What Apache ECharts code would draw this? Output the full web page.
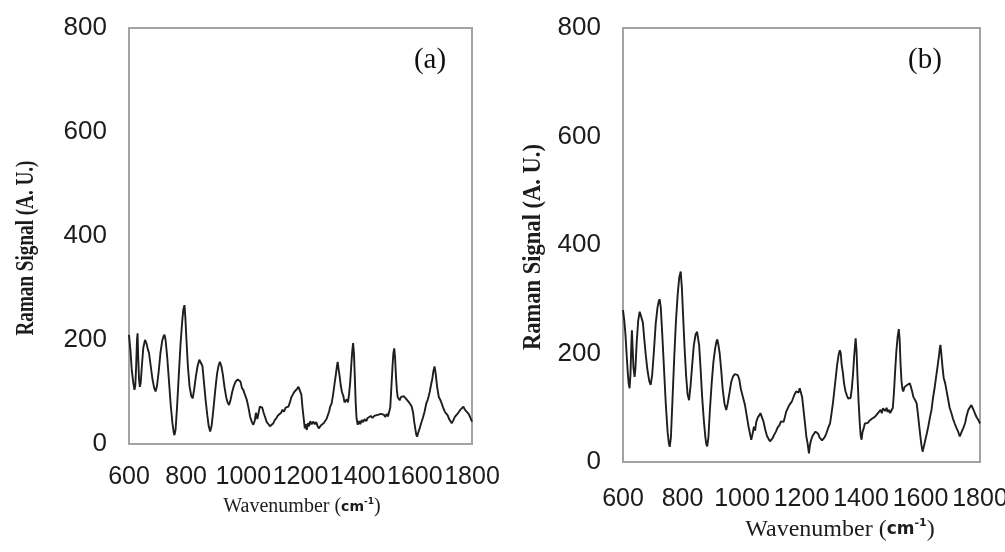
<!DOCTYPE html>
<html>
<head>
<meta charset="utf-8">
<script src="https://cdn.jsdelivr.net/npm/echarts@6/dist/echarts.min.js"></script>
<style>
  html, body { margin: 0; padding: 0; background: #ffffff; }
  #chart { width: 1005px; height: 552px; }
</style>
</head>
<body>
<div id="chart"></div>
<script>
// Raman spectra, [wavenumber (cm-1), signal (A. U.)]
const spectrumA = [
  [600,210],[605,180],[610,140],[615,118],[619,104],[622,112],[625,150],[628,200],[630,213],[632,170],
  [635,125],[638,110],[641,118],[645,150],[650,185],[656,200],[661,194],[666,182],[670,175],[676,150],
  [682,125],[688,108],[693,101],[698,112],[704,140],[710,175],[716,198],[720,206],[724,210],[728,200],
  [734,165],[740,120],[746,75],[752,40],[756,24],[759,17],[763,28],[768,70],[774,130],[780,190],
  [786,235],[790,258],[794,267],[797,245],[801,200],[806,150],[812,110],[818,92],[823,88],[828,105],
  [834,130],[840,150],[846,162],[852,165],[857,150],[862,120],[868,85],[874,55],[879,34],[884,24],
  [889,35],[895,65],[902,105],[908,135],[913,150],[918,158],[923,150],[928,135],[934,110],[940,90],
  [945,80],[950,75],[955,84],[961,100],[967,112],[973,120],[980,124],[985,126],[990,120],[995,108],
  [1000,104],[1005,96],[1012,85],[1018,70],[1024,52],[1030,42],[1035,37],[1040,45],[1044,60],[1049,48],
  [1054,62],[1058,72],[1062,75],[1066,70],[1071,60],[1076,52],[1082,42],[1088,38],[1093,34],[1099,33],
  [1105,40],[1110,46],[1116,50],[1121,55],[1127,58],[1132,60],[1137,66],[1142,62],[1148,70],[1153,68],
  [1158,72],[1163,80],[1168,90],[1173,95],[1178,100],[1183,98],[1188,106],[1193,110],[1199,113],[1203,95],
  [1207,70],[1211,50],[1215,30],[1218,38],[1222,27],[1226,40],[1230,34],[1234,44],[1239,38],[1245,43],
  [1250,38],[1255,42],[1260,34],[1264,30],[1268,27],[1272,36],[1277,34],[1281,40],[1286,37],[1291,48],
  [1296,56],[1300,62],[1304,72],[1309,78],[1314,95],[1319,115],[1324,135],[1327,148],[1330,158],[1333,145],
  [1337,130],[1341,112],[1345,100],[1350,92],[1354,80],[1358,78],[1362,86],[1366,80],[1370,96],[1374,120],
  [1378,155],[1381,178],[1384,194],[1387,175],[1390,130],[1393,80],[1396,50],[1400,37],[1405,44],[1409,38],
  [1414,46],[1419,42],[1424,48],[1430,44],[1435,50],[1441,48],[1446,54],[1452,50],[1458,54],[1464,52],
  [1470,56],[1476,55],[1482,58],[1488,60],[1492,56],[1497,52],[1502,58],[1506,53],[1510,56],[1514,70],
  [1518,110],[1522,150],[1525,175],[1528,184],[1531,165],[1534,130],[1537,105],[1540,90],[1543,88],[1547,84],
  [1551,90],[1556,88],[1561,92],[1566,91],[1571,86],[1576,88],[1580,80],[1584,81],[1589,72],[1594,60],
  [1598,42],[1602,28],[1605,18],[1608,14],[1612,22],[1617,30],[1622,40],[1628,50],[1634,62],[1640,78],
  [1645,85],[1648,91],[1652,100],[1656,112],[1661,125],[1665,140],[1669,149],[1673,135],[1678,110],[1684,90],
  [1689,85],[1694,78],[1699,70],[1705,62],[1710,60],[1715,55],[1720,48],[1725,46],[1729,40],[1734,45],
  [1740,52],[1746,56],[1752,60],[1758,65],[1764,68],[1770,72],[1775,66],[1780,65],[1785,60],[1790,56],
  [1795,54],[1800,43]
];

const spectrumB = [
  [600,280],[604,262],[608,237],[612,200],[616,165],[619,145],[622,136],[625,160],[628,215],[630,243],
  [632,215],[635,175],[639,157],[642,175],[646,220],[651,260],[656,277],[660,270],[664,262],[667,256],
  [671,230],[676,200],[682,170],[688,150],[693,142],[698,160],[704,205],[710,255],[716,285],[720,296],
  [723,300],[727,285],[732,235],[738,170],[744,105],[750,55],[754,35],[757,28],[761,45],[766,110],
  [772,190],[778,260],[784,310],[789,340],[794,351],[798,320],[802,270],[807,210],[812,160],[817,125],
  [822,114],[827,140],[832,175],[838,215],[844,235],[849,240],[852,240],[856,215],[861,170],[866,120],
  [872,75],[877,45],[880,33],[883,29],[887,45],[892,95],[898,145],[904,185],[910,210],[914,222],
  [917,226],[921,215],[925,200],[930,170],[935,135],[941,108],[947,96],[952,108],[958,128],[964,148],
  [970,158],[976,162],[981,163],[986,160],[991,152],[996,135],[1003,120],[1010,105],[1016,85],[1022,65],
  [1027,52],[1031,41],[1035,50],[1040,65],[1044,58],[1048,74],[1053,82],[1058,86],[1062,90],[1067,88],
  [1072,75],[1078,60],[1084,48],[1090,42],[1094,38],[1098,37],[1103,44],[1108,50],[1114,56],[1120,64],
  [1126,68],[1131,75],[1137,78],[1140,74],[1143,80],[1148,92],[1153,98],[1158,104],[1163,108],[1168,112],
  [1172,118],[1177,125],[1182,130],[1186,133],[1190,128],[1194,136],[1198,136],[1202,120],[1207,95],[1212,70],
  [1216,48],[1220,36],[1223,34],[1225,16],[1228,30],[1232,40],[1237,48],[1242,52],[1247,56],[1252,55],
  [1256,52],[1261,45],[1265,46],[1269,40],[1273,37],[1278,46],[1283,52],[1288,60],[1292,66],[1296,71],
  [1301,90],[1306,110],[1311,135],[1316,160],[1320,180],[1325,198],[1329,206],[1332,200],[1335,180],[1339,165],
  [1343,145],[1348,130],[1353,122],[1357,117],[1361,120],[1365,118],[1369,135],[1373,160],[1377,195],[1380,215],
  [1382,228],[1385,205],[1388,160],[1392,110],[1396,70],[1399,48],[1402,41],[1405,55],[1409,62],[1413,71],
  [1418,68],[1423,72],[1428,76],[1433,78],[1438,80],[1443,82],[1448,84],[1452,86],[1457,90],[1462,92],
  [1466,96],[1470,90],[1474,99],[1478,96],[1482,94],[1486,100],[1490,92],[1494,96],[1498,90],[1503,90],
  [1507,100],[1511,130],[1515,170],[1519,205],[1523,230],[1527,245],[1530,225],[1533,180],[1536,150],[1539,135],
  [1542,130],[1546,138],[1550,135],[1555,142],[1560,145],[1564,145],[1568,138],[1572,130],[1576,120],[1580,118],
  [1584,112],[1587,108],[1591,90],[1595,70],[1599,50],[1603,32],[1607,19],[1611,28],[1616,40],[1621,52],
  [1626,65],[1631,80],[1637,96],[1642,118],[1647,135],[1652,155],[1657,175],[1662,195],[1665,210],[1667,216],
  [1670,200],[1674,175],[1678,155],[1683,145],[1687,133],[1692,118],[1698,100],[1704,90],[1709,80],[1715,71],
  [1720,64],[1725,58],[1729,52],[1732,47],[1736,50],[1740,58],[1745,64],[1750,72],[1755,85],[1760,95],
  [1765,100],[1768,98],[1771,105],[1775,100],[1779,95],[1784,88],[1789,82],[1794,78],[1800,71]
];

// Axis tick values
const wavenumberTicks = [600, 800, 1000, 1200, 1400, 1600, 1800];
const signalTicks = [0, 200, 400, 600, 800];

const panelLabels = ['(a)', '(b)'];
const yTitle = 'Raman Signal (A. U.)';

const chart = echarts.init(document.getElementById('chart'), null, { renderer: 'canvas' });

const sans = "'Liberation Sans', Arial, sans-serif";
const serif = "'Liberation Serif', 'Times New Roman', serif";

// scale factor that squeezes a string to a given length
function fitScale(text, font, target) {
  const ctx = document.createElement('canvas').getContext('2d');
  ctx.font = font;
  return target / ctx.measureText(text).width;
}

const frame = {
  show: true, borderColor: '#a3a3a3', borderWidth: 2, backgroundColor: 'transparent',
  outerBoundsMode: 'none', containLabel: false
};

const plainNumber = v => String(v);

function xAxisFor(gridIndex, size, margin) {
  return {
    gridIndex, type: 'value',
    min: wavenumberTicks[0], max: wavenumberTicks[wavenumberTicks.length - 1],
    interval: wavenumberTicks[1] - wavenumberTicks[0],
    axisLine: { show: false }, axisTick: { show: false }, splitLine: { show: false },
    axisLabel: { fontFamily: sans, fontSize: size, color: '#1c1c1c', margin, formatter: plainNumber,
                 hideOverlap: false, showMinLabel: true, showMaxLabel: true }
  };
}
function yAxisFor(gridIndex, size, margin) {
  return {
    gridIndex, type: 'value',
    min: signalTicks[0], max: signalTicks[signalTicks.length - 1],
    interval: signalTicks[1] - signalTicks[0],
    axisLine: { show: false }, axisTick: { show: false }, splitLine: { show: false },
    axisLabel: { fontFamily: sans, fontSize: size, color: '#1c1c1c', margin, formatter: plainNumber }
  };
}

const titleFont = "bold 26px 'Liberation Serif'";
const sxA = fitScale(yTitle, titleFont, 175);
const sxB = fitScale(yTitle, titleFont, 206);

function xTitle(cx, cy, size, sx) {
  return {
    type: 'text', x: cx, y: cy, scaleX: sx, scaleY: 1,
    style: {
      text: 'Wavenumber ({c|cm}{s|-1})',
      fontFamily: serif, fontSize: size, fill: '#1c1c1c',
      align: 'center', verticalAlign: 'middle',
      rich: {
        c: { fontFamily: "'DejaVu Sans', sans-serif", fontWeight: 'bold', fontSize: Math.round(size * 0.72), fill: '#1c1c1c' },
        s: { fontFamily: "'DejaVu Sans', sans-serif", fontWeight: 'bold', fontSize: Math.round(size * 0.45), fill: '#1c1c1c', verticalAlign: 'top', padding: [0, 0, 8, 0] }
      }
    }
  };
}

const option = {
  animation: false,
  backgroundColor: '#ffffff',
  grid: [
    Object.assign({ left: 129, top: 28, width: 343, height: 416 }, frame),
    Object.assign({ left: 623, top: 28, width: 357, height: 434 }, frame)
  ],
  xAxis: [xAxisFor(0, 25, 21), xAxisFor(1, 25, 25)],
  yAxis: [yAxisFor(0, 26, 22), yAxisFor(1, 26, 22)],
  series: [
    { type: 'line', xAxisIndex: 0, yAxisIndex: 0, data: spectrumA, showSymbol: false,
      lineStyle: { color: '#1e1e1e', width: 1.9 }, silent: true },
    { type: 'line', xAxisIndex: 1, yAxisIndex: 1, data: spectrumB, showSymbol: false,
      lineStyle: { color: '#1e1e1e', width: 1.9 }, silent: true }
  ],
  graphic: [
    { type: 'text', x: 430, y: 60, style: { text: panelLabels[0], fontFamily: serif, fontSize: 29, fill: '#111', align: 'center', verticalAlign: 'middle' } },
    { type: 'text', x: 925, y: 60, style: { text: panelLabels[1], fontFamily: serif, fontSize: 29, fill: '#111', align: 'center', verticalAlign: 'middle' } },
    { type: 'text', x: 26, y: 248, rotation: Math.PI / 2, scaleX: sxA, scaleY: 1,
      style: { text: yTitle, font: titleFont, fill: '#1c1c1c', align: 'center', verticalAlign: 'middle' } },
    { type: 'text', x: 533, y: 247, rotation: Math.PI / 2, scaleX: sxB, scaleY: 1,
      style: { text: yTitle, font: titleFont, fill: '#1c1c1c', align: 'center', verticalAlign: 'middle' } },
    xTitle(302, 507, 20, 1),
    xTitle(840, 530, 24, 1)
  ]
};

chart.setOption(option);
</script>
</body>
</html>
